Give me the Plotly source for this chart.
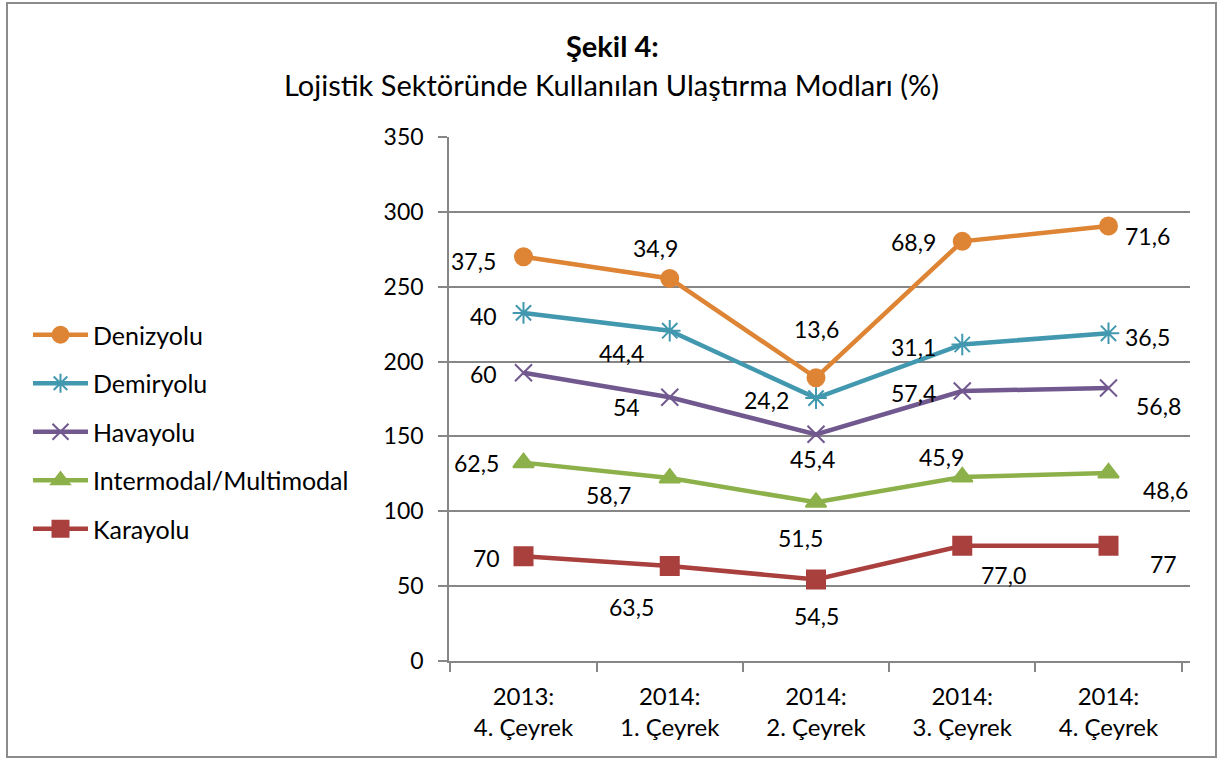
import numpy as np
import plotly.graph_objects as go

categories = ["2013:<br>4. Çeyrek", "2014:<br>1. Çeyrek", "2014:<br>2. Çeyrek",
              "2014:<br>3. Çeyrek", "2014:<br>4. Çeyrek"]

# stacked series, bottom to top
karayolu = [70, 63.5, 54.5, 77.0, 77]
intermodal = [62.5, 58.7, 51.5, 45.9, 48.6]
havayolu = [60, 54, 45.4, 57.4, 56.8]
demiryolu = [40, 44.4, 24.2, 31.1, 36.5]
denizyolu = [37.5, 34.9, 13.6, 68.9, 71.6]

karayolu_labels = ["70", "63,5", "54,5", "77,0", "77"]
intermodal_labels = ["62,5", "58,7", "51,5", "45,9", "48,6"]
havayolu_labels = ["60", "54", "45,4", "57,4", "56,8"]
demiryolu_labels = ["40", "44,4", "24,2", "31,1", "36,5"]
denizyolu_labels = ["37,5", "34,9", "13,6", "68,9", "71,6"]

series_names = ["Karayolu", "Intermodal/Multimodal", "Havayolu", "Demiryolu", "Denizyolu"]
series_values = [karayolu, intermodal, havayolu, demiryolu, denizyolu]
series_labels = [karayolu_labels, intermodal_labels, havayolu_labels,
                 demiryolu_labels, denizyolu_labels]

# ---- styles ----
FONT = "Lato"
colors = ["#A9403E", "#8DB14A", "#71588F", "#4198AF", "#DE8435"]
symbols = ["square", "triangle-up", "x-thin-open", "asterisk-open", "circle"]
msizes = [18, 18, 17, 18, 17]
# label offsets in pixels (dx right, dy down)
label_offsets = [
    [(-37, 2), (-38, 41), (0, 37), (41, 29), (55, 18)],
    [(-47, 0), (-61, 17), (-16, 36), (-21, -20), (57, 17)],
    [(-40, 1), (-43, 10), (-4, 25), (-49, 2), (50, 18)],
    [(-40, 3), (-48, 22), (-50, 2), (-49, 2), (39, 4)],
    [(-50, 4), (-14, -30), (0, -49), (-49, 1), (39, 10)],
]

W, H = 1228, 760
L, R, T, B = 449, 1190, 137, 661

fig = go.Figure()
annotations = []
cum = np.zeros(len(categories))
for i, (name, vals, labs) in enumerate(zip(series_names, series_values, series_labels)):
    fig.add_trace(go.Scatter(
        x=categories, y=vals, name=name, stackgroup="s", fill="none",
        mode="lines+markers", legendgroup=name, legendrank=len(series_names) - i,
        line=dict(color=colors[i], width=4.5),
        marker=dict(symbol=symbols[i], size=msizes[i], color=colors[i],
                    line=dict(color=colors[i], width=2)),
    ))
    cum = cum + np.array(vals)
    for j, (c, y, t) in enumerate(zip(categories, cum, labs)):
        dx, dy = label_offsets[i][j]
        annotations.append(dict(x=c, y=y, xref="x", yref="y", text=t, showarrow=False,
                                xanchor="center", yanchor="middle",
                                xshift=dx, yshift=-dy,
                                font=dict(family=FONT, size=23, color="#000000")))

def px_x(p):
    return (p - L) / (R - L)

def px_y(p):
    return (B - p) / (B - T)

annotations.append(dict(x=px_x(612), y=px_y(46), xref="paper", yref="paper",
                        xanchor="center", yanchor="middle",
                        text="<b>Şekil 4:</b>", showarrow=False,
                        font=dict(family=FONT, size=29, color="#000000")))
annotations.append(dict(x=px_x(611), y=px_y(85), xref="paper", yref="paper",
                        xanchor="center", yanchor="middle",
                        text="Lojistik Sektöründe Kullanılan Ulaştırma Modları (%)",
                        showarrow=False,
                        font=dict(family=FONT, size=29, color="#000000")))

fig.update_layout(
    width=W, height=H,
    margin=dict(l=L, r=W - R, t=T, b=H - B, pad=0),
    paper_bgcolor="white", plot_bgcolor="white",
    font=dict(family=FONT, size=23, color="#000000"),
    showlegend=True,
    legend=dict(x=px_x(28), y=px_y(312), xanchor="left", yanchor="top",
                traceorder="grouped", tracegroupgap=13,
                font=dict(family=FONT, size=25, color="#000000"),
                itemwidth=55, bgcolor="rgba(0,0,0,0)"),
    xaxis=dict(type="category", showgrid=False, showline=True, linecolor="#868686",
               linewidth=1.5, ticks="outside", tickson="boundaries", ticklen=9,
               tickcolor="#868686", tickwidth=1.5, ticklabelstandoff=13,
               tickfont=dict(family=FONT, size=24, color="#000000")),
    yaxis=dict(range=[0, 350], dtick=50, showgrid=True, gridcolor="#868686", gridwidth=1.5,
               showline=True, linecolor="#868686", linewidth=1.5, ticks="outside",
               ticklen=9, tickcolor="#868686", tickwidth=1.5, zeroline=False,
               ticklabelstandoff=10,
               tickfont=dict(family=FONT, size=23, color="#000000")),
    annotations=annotations,
    shapes=[dict(type="rect", xref="paper", yref="paper",
                 x0=px_x(7), x1=px_x(1216), y0=px_y(757), y1=px_y(3),
                 line=dict(color="#8C8C8C", width=2), fillcolor="rgba(0,0,0,0)",
                 layer="below")],
    hovermode=False,
)

fig.write_html("out.html", config={"displayModeBar": False},
               post_script="document.body.style.margin='0';")
